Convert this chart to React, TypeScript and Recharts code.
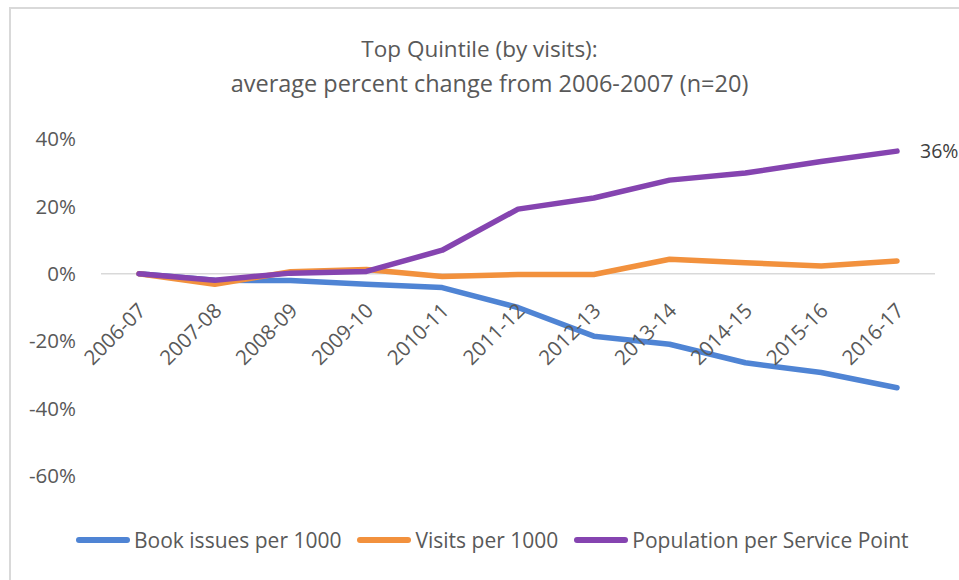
import { LineChart, Line, XAxis, YAxis, ReferenceLine } from 'recharts'

const years = ['2006-07', '2007-08', '2008-09', '2009-10', '2010-11', '2011-12', '2012-13', '2013-14', '2014-15', '2015-16', '2016-17']
const bookIssues = [0, -1.9, -2.0, -3.1, -4.1, -10.0, -18.5, -20.9, -26.4, -29.3, -33.8]
const visits = [0, -3.1, 0.6, 1.3, -0.8, -0.2, -0.2, 4.3, 3.3, 2.3, 3.8]
const population = [0, -1.9, 0.2, 0.7, 7.0, 19.2, 22.5, 27.8, 29.9, 33.3, 36.4]
const yTicks = [-60, -40, -20, 0, 20, 40]

const COLORS = {
  book: '#4F84D4',
  visits: '#F2913D',
  pop: '#8544B0',
}

const FONT = '"Open Sans", sans-serif'
const W = 959
const H = 580
const X_AXIS_H = 1
const MARGIN = { top: 139, right: 24, bottom: 104 - X_AXIS_H, left: 0 }
const PLOT_H = H - MARGIN.top - MARGIN.bottom - X_AXIS_H
const Y_MIN = -60
const Y_MAX = 40

const data = years.map((year, i) => ({
  year,
  book: bookIssues[i],
  visits: visits[i],
  pop: population[i],
}))

// category labels sit on the zero line, not on the plot bottom
function YearTick({ x, y, payload }: any) {
  const zeroY = y - (PLOT_H * (0 - Y_MIN)) / (Y_MAX - Y_MIN)
  return (
    <text
      transform={`translate(${x - 2},${zeroY + 20}) rotate(-45)`}
      textAnchor="end"
      dy="0.7em"
      fill="#595959"
      fontSize={20.5}
      fontFamily={FONT}
    >
      {payload.value}
    </text>
  )
}

function EndLabel({ x, y, index }: any) {
  if (index !== population.length - 1) return null
  return (
    <text x={x + 23} y={y} dy="0.35em" fill="#404040" fontSize={19.5} fontFamily={FONT}>
      {`${Math.round(population[index])}%`}
    </text>
  )
}

const legendItems = [
  { label: 'Book issues per 1000', color: COLORS.book },
  { label: 'Visits per 1000', color: COLORS.visits },
  { label: 'Population per Service Point', color: COLORS.pop },
]

export default function App() {
  return (
    <div style={{ position: 'absolute', left: 0, top: 0, width: W, height: H, overflow: 'hidden', background: '#fff', fontFamily: FONT }}>
      <div style={{ position: 'absolute', left: 9, top: 7, width: 1000, height: 700, border: '2px solid #d9d9d9' }} />
      <div style={{ position: 'absolute', left: 0, top: 32, width: W, textAlign: 'center', color: '#595959', fontSize: 23.5, lineHeight: '34px' }}>
        <div style={{ fontSize: 22.5 }}>Top Quintile (by visits):</div>
        <div style={{ paddingLeft: 20 }}>average percent change from 2006-2007 (n=20)</div>
      </div>
      <div style={{ position: 'absolute', left: 0, top: 0 }}>
        <LineChart width={W} height={H} data={data} margin={MARGIN}>
          <XAxis
            dataKey="year"
            height={X_AXIS_H}
            axisLine={false}
            tickLine={false}
            interval={0}
            padding={{ left: 38, right: 38 }}
            tick={<YearTick />}
          />
          <YAxis
            width={101}
            domain={[Y_MIN, Y_MAX]}
            ticks={yTicks}
            allowDataOverflow
            axisLine={false}
            tickLine={false}
            tickSize={0}
            tickMargin={25}
            tickFormatter={(v: number) => `${v}%`}
            tick={{ fill: '#595959', fontSize: 20.5, fontFamily: FONT }}
          />
          <ReferenceLine y={0} stroke="#d9d9d9" strokeWidth={1.5} />
          <Line dataKey="book" stroke={COLORS.book} strokeWidth={5.5} strokeLinecap="round" strokeLinejoin="round" dot={false} isAnimationActive={false} />
          <Line dataKey="visits" stroke={COLORS.visits} strokeWidth={5.5} strokeLinecap="round" strokeLinejoin="round" dot={false} isAnimationActive={false} />
          <Line dataKey="pop" stroke={COLORS.pop} strokeWidth={5.5} strokeLinecap="round" strokeLinejoin="round" dot={false} isAnimationActive={false} label={<EndLabel />} />
        </LineChart>
      </div>
      <div style={{ position: 'absolute', left: 76, top: 526, display: 'flex', alignItems: 'center', color: '#595959', fontSize: 21 }}>
        {legendItems.map((item) => (
          <div key={item.label} style={{ display: 'flex', alignItems: 'center', marginRight: 16 }}>
            <span style={{ display: 'inline-block', width: 54, height: 6, borderRadius: 3, background: item.color, marginRight: 4 }} />
            <span>{item.label}</span>
          </div>
        ))}
      </div>
    </div>
  )
}
